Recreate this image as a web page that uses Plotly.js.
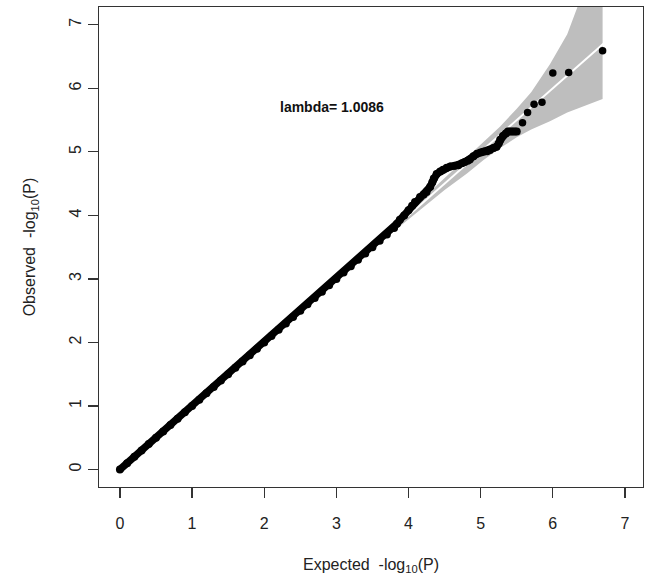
<!DOCTYPE html>
<html>
<head>
<meta charset="utf-8">
<script src="https://cdn.plot.ly/plotly-3.0.1.min.js"></script>
<style>html,body{margin:0;padding:0;background:#fff;}#chart{width:645px;height:575px;}</style>
</head>
<body>
<div id="chart"></div>
<script>
// Dense run of observed vs expected -log10(P) (points merge into a thick line)
var expectedDense = [0.0,0.1,0.2,0.3,0.4,0.5,0.6,0.7,0.8,0.9,1.0,1.1,1.2,1.3,1.4,1.5,1.6,1.7,1.8,1.9,2.0,2.1,2.2,2.3,2.4,2.5,2.6,2.7,2.8,2.9,3.0,3.1,3.2,3.3,3.4,3.5,3.6,3.7,3.8,
  3.84,3.88,3.94,4.00,4.05,4.09,4.16,4.21,4.25,4.30,4.33,4.35,4.39,4.44,4.48,4.53,4.58,4.64,4.69,4.74,4.78,4.82,4.85,4.90,4.95,5.00,5.04,5.09,5.13,5.18,5.22,5.25,5.27,5.31,5.35,5.38,5.42,5.46,5.50];
var observedDense = [0.0,0.1,0.2,0.3,0.4,0.5,0.6,0.7,0.8,0.9,1.0,1.1,1.2,1.3,1.4,1.5,1.6,1.7,1.8,1.9,2.0,2.1,2.2,2.3,2.4,2.5,2.6,2.7,2.8,2.9,3.0,3.1,3.2,3.3,3.4,3.5,3.6,3.7,3.8,
  3.87,3.93,4.00,4.08,4.15,4.21,4.29,4.33,4.37,4.45,4.52,4.58,4.65,4.69,4.72,4.75,4.77,4.78,4.79,4.82,4.84,4.86,4.88,4.93,4.97,4.99,5.00,5.01,5.03,5.06,5.08,5.13,5.19,5.25,5.29,5.32,5.32,5.32,5.32];
// Isolated top points
var expectedTail = [5.58,5.65,5.74,5.85,6.00,6.22,6.69];
var observedTail = [5.46,5.62,5.75,5.78,6.24,6.25,6.59];
// Confidence band
var bandX     = [2.0,2.5,3.0,3.5,3.9,4.2,4.5,4.81,5.04,5.27,5.5,5.7,5.96,6.2,6.43,6.69];
var bandUpper = [2.01,2.515,3.025,3.54,3.955,4.27,4.59,4.92,5.16,5.40,5.68,5.94,6.38,6.85,7.55,8.35];
var bandLower = [1.99,2.485,2.975,3.46,3.845,4.125,4.40,4.66,4.87,5.06,5.23,5.35,5.48,5.62,5.72,5.83];
var tickVals = [0,1,2,3,4,5,6,7];
var lambdaText = "lambda= 1.0086";
var diagX = [-0.3, 7.3];

var polyX = bandX.concat(bandX.slice().reverse());
var polyY = bandUpper.concat(bandLower.slice().reverse());

var FONT = "Liberation Sans, Arial, Helvetica, sans-serif";

var traces = [
  {x: polyX, y: polyY, type: "scatter", mode: "lines", fill: "toself",
   fillcolor: "#bebebe", line: {width: 0, color: "#bebebe"}, hoverinfo: "skip"},
  {x: diagX, y: diagX, type: "scatter", mode: "lines",
   line: {color: "#ffffff", width: 2}, hoverinfo: "skip"},
  {x: expectedDense, y: observedDense, type: "scatter", mode: "lines+markers",
   line: {color: "#000", width: 7.5}, marker: {color: "#000", size: 8}},
  {x: expectedTail, y: observedTail, type: "scatter", mode: "markers",
   marker: {color: "#000", size: 7.5}}
];

var axisCommon = {
  tickvals: tickVals, ticks: "outside", ticklen: 10, tickwidth: 1.2, tickcolor: "#333",
  showline: true, mirror: true, linecolor: "#333", linewidth: 1.2,
  showgrid: false, zeroline: false,
  tickfont: {family: FONT, size: 16, color: "#222"}
};

var layout = {
  width: 645, height: 575,
  margin: {l: 99, r: 2, t: 7, b: 88},
  paper_bgcolor: "#fff", plot_bgcolor: "#fff",
  showlegend: false,
  xaxis: Object.assign({}, axisCommon, {
    range: [-0.29, 7.25],
    ticklabelstandoff: 12,
    title: {text: "Expected\u00a0 -log<sub>10</sub>(P)", font: {family: FONT, size: 16, color: "#222"}, standoff: 27}
  }),
  yaxis: Object.assign({}, axisCommon, {
    range: [-0.275, 7.28],
    tickangle: -90,
    title: {text: "Observed\u00a0 -log<sub>10</sub>(P)", font: {family: FONT, size: 16, color: "#222"}, standoff: 27}
  }),
  annotations: [{
    x: 2.94, y: 5.71, xref: "x", yref: "y", showarrow: false,
    text: "<b>" + lambdaText + "</b>",
    font: {family: FONT, size: 14, color: "#111"}
  }]
};

Plotly.newPlot("chart", traces, layout, {displayModeBar: false, staticPlot: true});
</script>
</body>
</html>
